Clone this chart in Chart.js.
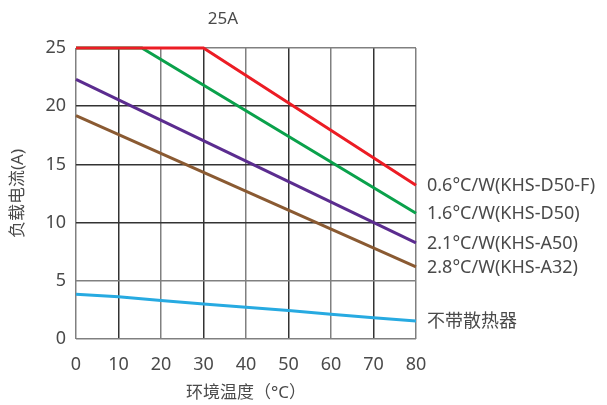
<!DOCTYPE html>
<html>
<head>
<meta charset="utf-8">
<script src="https://cdn.jsdelivr.net/npm/chart.js@4"></script>
<style>
  html, body { margin: 0; padding: 0; background: #fff; }
  #wrap { width: 607px; height: 405px; }
</style>
</head>
<body>
<div id="wrap"><canvas id="derating"></canvas></div>
<script>
// values
const xTicks = [0, 10, 20, 30, 40, 50, 60, 70, 80];
const yTicks = [0, 5, 10, 15, 20, 25];

const redX = [0, 30, 80];
const redY = [25, 25, 13.2];
const greenX = [0, 15.5, 80];
const greenY = [25, 25, 10.8];
const purpleX = [0, 80];
const purpleY = [22.3, 8.25];
const brownX = [0, 80];
const brownY = [19.2, 6.2];
const blueX = [0, 10, 20, 30, 40, 50, 60, 70, 80];
const blueY = [3.85, 3.62, 3.3, 3.0, 2.72, 2.45, 2.12, 1.83, 1.55];

const seriesNames = ['0.6°C/W(KHS-D50-F)', '1.6°C/W(KHS-D50)', '2.1°C/W(KHS-A50)', '2.8°C/W(KHS-A32)', '不带散热器'];
const titleText = '25A';
const xTitle = '环境温度（°C）';
const yTitle = '负载电流(A)';

const pts = (xs, ys) => xs.map((x, i) => ({ x, y: ys[i] }));
const FONT = '"Noto Sans", "Noto Sans CJK SC", sans-serif';
const TXT = '#4a4a4a';

const mk = (label, xs, ys, color) => ({
  label,
  data: pts(xs, ys),
  borderColor: color,
  borderWidth: 3,
  pointRadius: 0,
  fill: false,
  tension: 0,
  clip: false
});

// right-hand labels at each line's end, plus the top "25A" note
const annotate = {
  id: 'annotate',
  afterDatasetsDraw(chart) {
    const { ctx, scales } = chart;
    ctx.save();
    ctx.fillStyle = TXT;
    ctx.font = '18px ' + FONT;
    ctx.textBaseline = 'middle';
    ctx.textAlign = 'left';
    chart.data.datasets.forEach(ds => {
      const last = ds.data[ds.data.length - 1];
      ctx.fillText(ds.label, scales.x.getPixelForValue(last.x) + 11, scales.y.getPixelForValue(last.y) + 1);
    });
    ctx.font = '17px ' + FONT;
    ctx.textAlign = 'center';
    ctx.fillText(titleText, 223, 19);
    ctx.restore();
  }
};

const darkX = [10, 30, 50, 70];
const darkY = [10, 15, 20];

// first dataset is painted on top, so red covers green on the 25 A plateau
new Chart(document.getElementById('derating'), {
  type: 'line',
  data: {
    datasets: [
      mk(seriesNames[0], redX, redY, '#ec1c24'),
      mk(seriesNames[1], greenX, greenY, '#0aa14b'),
      mk(seriesNames[2], purpleX, purpleY, '#5b2c8f'),
      mk(seriesNames[3], brownX, brownY, '#8a5a32'),
      mk(seriesNames[4], blueX, blueY, '#27aae1')
    ]
  },
  options: {
    responsive: true,
    maintainAspectRatio: false,
    animation: false,
    layout: { padding: { top: 48, right: 191, left: 0, bottom: 0 } },
    plugins: { legend: { display: false }, tooltip: { enabled: false } },
    scales: {
      x: {
        type: 'linear',
        min: 0, max: 80,
        afterBuildTicks: s => { s.ticks = xTicks.map(v => ({ value: v })); },
        afterFit: s => { s.height = 66; },
        border: { display: false },
        grid: {
          drawTicks: false,
          lineWidth: 1.5,
          color: c => darkX.includes(c.tick && c.tick.value) ? '#333' : '#808080'
        },
        ticks: { color: TXT, font: { family: FONT, size: 18 }, padding: 15 },
        title: { display: true, text: xTitle, color: TXT, font: { family: FONT, size: 17 }, padding: { bottom: 2 } }
      },
      y: {
        min: 0, max: 25,
        afterBuildTicks: s => { s.ticks = yTicks.map(v => ({ value: v })); },
        afterFit: s => { s.width = 76; },
        border: { display: false },
        grid: {
          drawTicks: false,
          lineWidth: 1.5,
          color: c => darkY.includes(c.tick && c.tick.value) ? '#333' : '#808080'
        },
        ticks: { color: TXT, font: { family: FONT, size: 18 }, padding: 10 },
        title: { display: true, text: yTitle, color: TXT, font: { family: FONT, size: 17 }, padding: { top: 8 } }
      }
    }
  },
  plugins: [annotate]
});
</script>
</body>
</html>
